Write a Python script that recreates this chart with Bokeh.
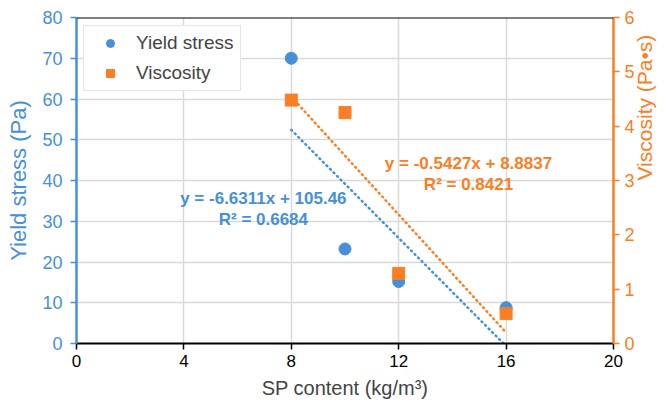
import math
from bokeh.plotting import figure
from bokeh.models import (Range1d, LinearAxis, FixedTicker, Span, Legend, LegendItem)
from bokeh.core.properties import value
from bokeh.embed import file_html
from bokeh.resources import INLINE

# SP dosage and measured rheology
sp_content = [8, 10, 12, 16]
yield_stress = [70.0, 23.2, 15.2, 8.8]
viscosity = [4.48, 4.25, 1.29, 0.55]

# Linear fits (slope, intercept, R²)
ys_fit = (-6.6311, 105.46, 0.6684)
vs_fit = (-0.5427, 8.8837, 0.8421)

x_ticks = [0, 4, 8, 12, 16, 20]
left_ticks = [0, 10, 20, 30, 40, 50, 60, 70, 80]
right_ticks = [0, 1, 2, 3, 4, 5, 6]

BLUE = "#4690D8"
ORANGE = "#FA7E23"
FONT = "Liberation Sans"

p = figure(width=670, height=405, output_backend="svg", toolbar_location=None,
           x_range=Range1d(0, 20), y_range=Range1d(0, 80),
           min_border_left=76, min_border_right=57, min_border_top=17,
           min_border_bottom=62)
p.extra_y_ranges = {"visc": Range1d(0, 6)}
p.outline_line_color = None
p.background_fill_color = "white"

# grid
p.xgrid.ticker = FixedTicker(ticks=x_ticks)
p.ygrid.ticker = FixedTicker(ticks=left_ticks)
for g in (p.xgrid, p.ygrid):
    g.grid_line_color = "#d9d9d9"
    g.grid_line_width = 1.5

# bottom axis
xa = p.xaxis[0]
xa.ticker = FixedTicker(ticks=x_ticks)
xa.axis_label = "SP content (kg/m³)"
xa.axis_line_color = "black"
xa.axis_line_width = 2
xa.major_tick_line_color = "black"
xa.major_tick_line_width = 1.5
xa.major_tick_out = 6
xa.major_tick_in = 0
xa.minor_tick_line_color = None
xa.major_label_text_font = FONT
xa.major_label_text_font_size = "17px"
xa.major_label_text_color = "black"
xa.axis_label_text_font = FONT
xa.axis_label_text_font_size = "20px"
xa.axis_label_text_font_style = "normal"
xa.axis_label_standoff = 7

# left axis
ya = p.yaxis[0]
ya.ticker = FixedTicker(ticks=left_ticks)
ya.axis_label = "Yield stress (Pa)"
ya.axis_line_color = BLUE
ya.axis_line_width = 2.5
ya.major_tick_line_color = BLUE
ya.major_tick_line_width = 1.5
ya.major_tick_out = 6
ya.major_tick_in = 0
ya.minor_tick_line_color = None
ya.major_label_standoff = 8
ya.major_label_text_font = FONT
ya.major_label_text_font_size = "18px"
ya.major_label_text_color = BLUE
ya.axis_label_text_font = FONT
ya.axis_label_text_font_size = "22px"
ya.axis_label_text_font_style = "normal"
ya.axis_label_text_color = BLUE
ya.axis_label_standoff = 8

# right axis
ra = LinearAxis(y_range_name="visc", ticker=FixedTicker(ticks=right_ticks),
                axis_label="Viscosity (Pa•s)")
ra.axis_line_color = ORANGE
ra.axis_line_width = 2.5
ra.major_tick_line_color = ORANGE
ra.major_tick_line_width = 1.5
ra.major_tick_out = 6
ra.major_tick_in = 0
ra.minor_tick_line_color = None
ra.major_label_standoff = 5
ra.major_label_text_font = FONT
ra.major_label_text_font_size = "18px"
ra.major_label_text_color = ORANGE
ra.axis_label_text_font = FONT
ra.axis_label_text_font_size = "21px"
ra.axis_label_text_font_style = "normal"
ra.axis_label_text_color = ORANGE
ra.axis_label_standoff = 7
# title reads bottom-to-top, like the left one
try:
    ra.axis_label_orientation = math.pi / 2
except (AttributeError, ValueError):
    pass
p.add_layout(ra, "right")

# top border
p.add_layout(Span(location=80, dimension="width", line_color="black", line_width=2))

# trend lines over the data span
x0, x1 = min(sp_content), max(sp_content)
ys_line = [ys_fit[0] * x + ys_fit[1] for x in (x0, x1)]
vs_line = [vs_fit[0] * x + vs_fit[1] for x in (x0, x1)]
p.line([x0, x1], ys_line, line_color=BLUE, line_width=2.5, line_dash="1 4", line_cap="round")
p.line([x0, x1], vs_line, line_color=ORANGE, line_width=2.5, line_dash="1 4", line_cap="round",
       y_range_name="visc")

# data points
r_ys = p.scatter(sp_content, yield_stress, marker="circle", size=12,
                 fill_color=BLUE, line_color=BLUE)
r_vs = p.scatter(sp_content, viscosity, marker="square", size=12,
                 fill_color=ORANGE, line_color=ORANGE, y_range_name="visc")

# fit equations
def eq(fit):
    return f"y = {fit[0]}x + {fit[1]}", f"R² = {fit[2]}"

ys_eq, ys_r2 = eq(ys_fit)
vs_eq, vs_r2 = eq(vs_fit)
p.text(x=[6.96, 6.96], y=[35.6, 30.4], text=[ys_eq, ys_r2], text_color=BLUE,
       text_font=value(FONT), text_font_size="17px", text_font_style="bold",
       text_align="center", text_baseline="middle")
p.text(x=[14.6, 14.6], y=[44.2, 39.0], text=[vs_eq, vs_r2], text_color=ORANGE,
       text_font=value(FONT), text_font_size="17px", text_font_style="bold",
       text_align="center", text_baseline="middle")

legend = Legend(items=[LegendItem(label="Yield stress", renderers=[r_ys]),
                       LegendItem(label="Viscosity", renderers=[r_vs])],
                location=(7, 252))
legend.label_text_font = FONT
legend.label_text_font_size = "19px"
legend.border_line_color = "#cccccc"
legend.border_line_width = 1
legend.padding = 6
legend.spacing = 8
legend.glyph_width = 40
legend.label_standoff = 6
legend.background_fill_alpha = 1
p.add_layout(legend)

open("out.html", "w").write(file_html(p, INLINE))
